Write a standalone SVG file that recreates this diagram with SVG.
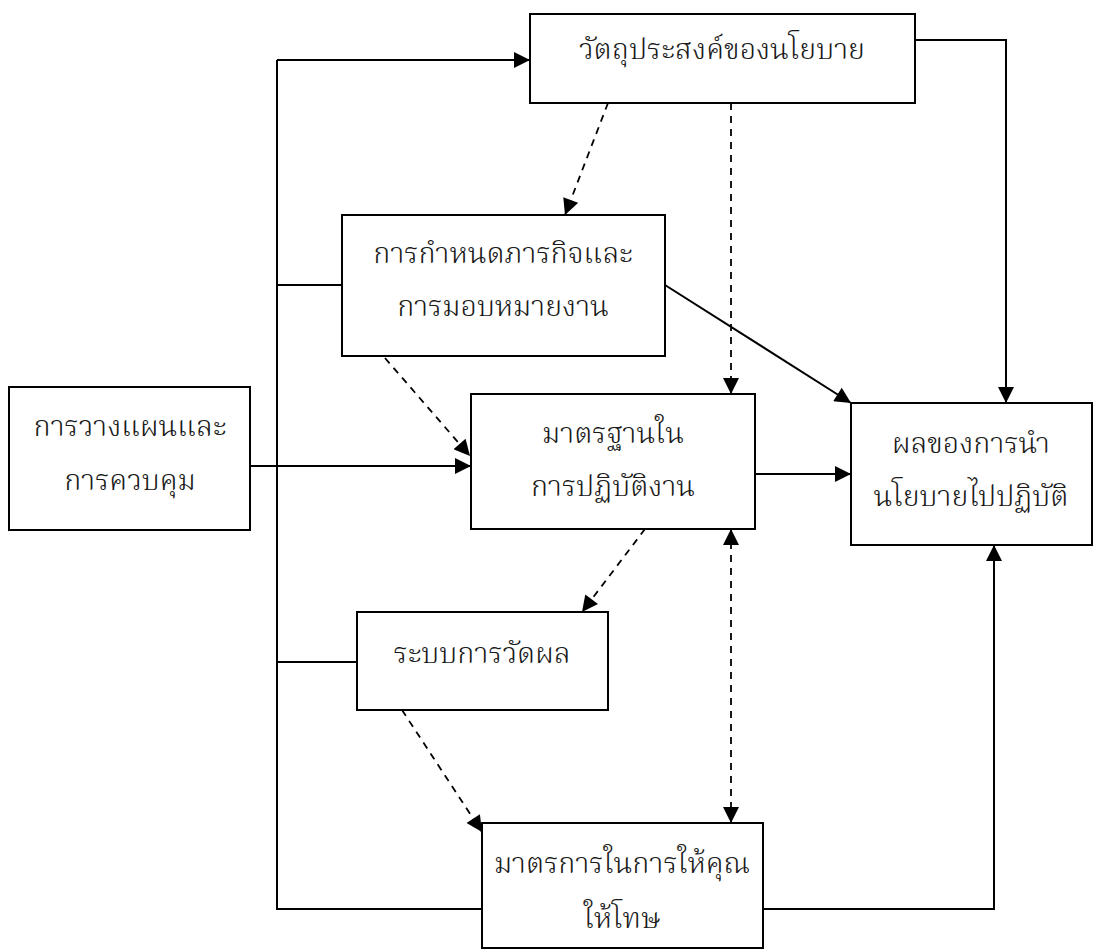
<svg xmlns="http://www.w3.org/2000/svg" width="1103" height="952" viewBox="0 0 1103 952">
<style>
.box{fill:#fff;stroke:#000;stroke-width:2}
.t{font-family:"Noto Serif Thai","Noto Sans Thai","Liberation Serif","DejaVu Serif",serif;font-size:29px;font-weight:300;fill:#1a1a1a;text-anchor:middle;dominant-baseline:central}
.s{fill:none;stroke:#000;stroke-width:2}
.d{fill:none;stroke:#000;stroke-width:1.8;stroke-dasharray:7 6}
</style>
<defs>
<marker id="ahL" viewBox="0 0 10 10" refX="10" refY="5" markerWidth="18" markerHeight="16" markerUnits="userSpaceOnUse" orient="auto-start-reverse"><path d="M0,0 L10,5 L0,10 z" fill="#000"/></marker>
</defs>
<rect width="1103" height="952" fill="#fff"/>
<g id="connectors">
<path class="s" d="M277,60 V909 H482"/>
<path class="s" d="M277,60 H530" marker-end="url(#ahL)"/>
<path class="s" d="M277,285 H342"/>
<path class="s" d="M277,662 H357"/>
<path class="s" d="M250,466 H471" marker-end="url(#ahL)"/>
<path class="s" d="M915,40 H1006 V403" marker-end="url(#ahL)"/>
<path class="s" d="M665,285 L851,403" marker-end="url(#ahL)"/>
<path class="s" d="M755,474 H851" marker-end="url(#ahL)"/>
<path class="s" d="M763,909 H994 V545" marker-end="url(#ahL)"/>
<path class="d" d="M608,103 L565,215" marker-end="url(#ahL)"/>
<path class="d" d="M731,103 V394" marker-end="url(#ahL)"/>
<path class="d" d="M385,358 L470,456" marker-end="url(#ahL)"/>
<path class="d" d="M645,529 L582,612" marker-end="url(#ahL)"/>
<path class="d" d="M731,529 V823" marker-start="url(#ahL)" marker-end="url(#ahL)"/>
<path class="d" d="M402,710 L482,832" marker-end="url(#ahL)"/>
</g>
<g id="n-objective"><rect class="box" x="530" y="14" width="385" height="89"/><text class="t" x="722" y="51">วัตถุประสงค์ของนโยบาย</text></g>
<g id="n-planning"><rect class="box" x="9" y="387" width="241" height="143"/><text class="t" x="130" y="428">การวางแผนและ</text><text class="t" x="130" y="482">การควบคุม</text></g>
<g id="n-assign"><rect class="box" x="342" y="215" width="323" height="141"/><text class="t" x="503" y="255">การกำหนดภารกิจและ</text><text class="t" x="503" y="308">การมอบหมายงาน</text></g>
<g id="n-standard"><rect class="box" x="471" y="394" width="284" height="135"/><text class="t" x="613" y="435">มาตรฐานใน</text><text class="t" x="613" y="488">การปฏิบัติงาน</text></g>
<g id="n-result"><rect class="box" x="851" y="403" width="241" height="142"/><text class="t" x="971" y="445">ผลของการนำ</text><text class="t" x="971" y="498">นโยบายไปปฏิบัติ</text></g>
<g id="n-measure"><rect class="box" x="357" y="612" width="251" height="98"/><text class="t" x="482" y="655">ระบบการวัดผล</text></g>
<g id="n-reward"><rect class="box" x="482" y="823" width="281" height="125"/><text class="t" x="622" y="865">มาตรการในการให้คุณ</text><text class="t" x="622" y="920">ให้โทษ</text></g>
</svg>
